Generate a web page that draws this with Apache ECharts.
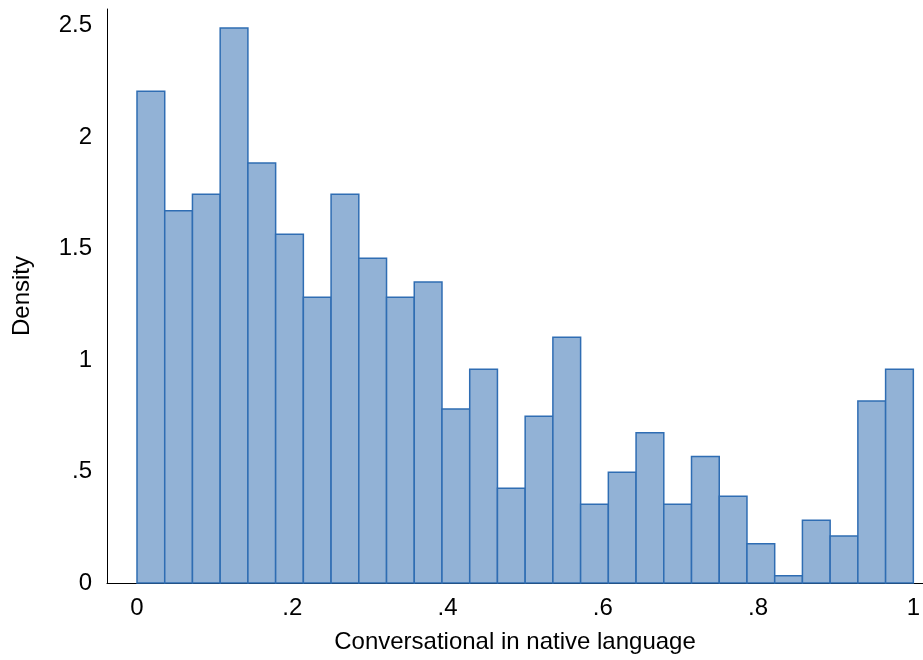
<!DOCTYPE html>
<html>
<head>
<meta charset="utf-8">
<script src="https://cdn.jsdelivr.net/npm/echarts@6/dist/echarts.min.js"></script>
<style>html,body{margin:0;padding:0;background:#fff}#c{width:923px;height:660px}</style>
</head>
<body>
<div id="c"></div>
<script>
// Histogram densities (28 equal-width bins over [0,1])
var binCount = 28;
var densities = [2.206, 1.670, 1.744, 2.490, 1.884, 1.564, 1.282, 1.744, 1.457, 1.282,
                 1.350, 0.781, 0.959, 0.425, 0.748, 1.102, 0.353, 0.497, 0.674, 0.353,
                 0.567, 0.389, 0.176, 0.033, 0.281, 0.211, 0.817, 0.959];
var xTickLabels = ['0', '.2', '.4', '.6', '.8', '1'];
var yTickLabels = ['0', '.5', '1', '1.5', '2', '2.5'];
var xTitle = 'Conversational in native language';
var yTitle = 'Density';

var binWidth = 1 / binCount;
var data = densities.map(function (d, i) { return [i * binWidth, (i + 1) * binWidth, d]; });

function fmtX(v) {
  var k = Math.round(v / 0.2);
  if (Math.abs(v - k * 0.2) > 1e-6) return '';
  return xTickLabels[k] || '';
}
function fmtY(v) {
  var k = Math.round(v / 0.5);
  if (Math.abs(v - k * 0.5) > 1e-6) return '';
  return yTickLabels[k] || '';
}
var font = '"Liberation Sans", Arial, Helvetica, sans-serif';
var fs = 24;

var chart = echarts.init(document.getElementById('c'), null, {renderer: 'canvas'});
chart.setOption({
  animation: false,
  backgroundColor: '#fff',
  grid: [
    {left: 107, right: 0, top: 9, bottom: 77, containLabel: false},
    {left: 137, right: 9, top: 9, bottom: 77, containLabel: false}
  ],
  xAxis: [
    {
      gridIndex: 0, type: 'value', min: -0.0386, max: 1.0116,
      axisLine: {show: true, onZero: false, lineStyle: {color: '#000', width: 1}},
      axisTick: {show: false}, axisLabel: {show: false}, splitLine: {show: false},
      name: xTitle, nameLocation: 'middle', nameGap: 47,
      nameTextStyle: {fontFamily: font, fontSize: fs, color: '#000'}
    },
    {
      gridIndex: 1, type: 'value', min: 0, max: 1, interval: 0.2,
      axisLine: {show: false, onZero: false}, axisTick: {show: false}, splitLine: {show: false},
      axisLabel: {formatter: fmtX, fontFamily: font, fontSize: fs, color: '#000', margin: 13}
    }
  ],
  yAxis: [
    {
      gridIndex: 0, type: 'value', min: 0, max: 2.575, interval: 0.5,
      axisLine: {show: true, onZero: false, lineStyle: {color: '#000', width: 1}},
      axisTick: {show: false}, splitLine: {show: false},
      axisLabel: {formatter: fmtY, fontFamily: font, fontSize: fs, color: '#000', margin: 15,
                  padding: [5, 0, 0, 0]},
      name: yTitle, nameLocation: 'middle', nameGap: 73, nameRotate: 90,
      nameTextStyle: {fontFamily: font, fontSize: fs, color: '#000'}
    },
    {
      gridIndex: 1, type: 'value', min: 0, max: 2.575, interval: 0.5, show: false
    }
  ],
  series: [{
    type: 'custom',
    xAxisIndex: 1, yAxisIndex: 1,
    data: data,
    encode: {x: [0, 1], y: 2},
    renderItem: function (params, api) {
      var p0 = api.coord([api.value(0), api.value(2)]);
      var p1 = api.coord([api.value(1), 0]);
      return {
        type: 'rect',
        shape: {x: p0[0], y: p0[1], width: p1[0] - p0[0], height: p1[1] - p0[1]},
        style: {fill: '#92b2d6', stroke: '#2f6db3', lineWidth: 1.5}
      };
    }
  }]
});
</script>
</body>
</html>
